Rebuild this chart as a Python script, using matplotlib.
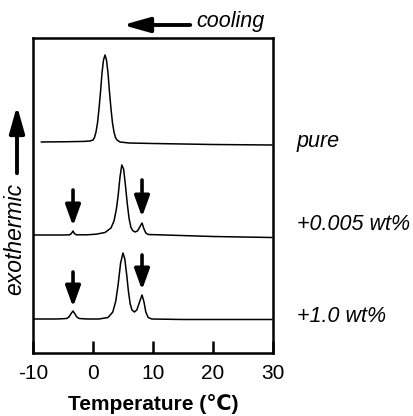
import matplotlib.pyplot as plt
from matplotlib.patches import FancyArrowPatch

plt.rcParams['font.family'] = ['Liberation Sans', 'DejaVu Sans']

# DSC cooling curves (temperature in C, signal in arbitrary units above baseline)
pure_T = [-8.6, -4.0, -1.5, -0.5, 0.0, 0.25, 0.5, 0.75, 1.0, 1.25, 1.5, 1.75, 2.0,
          2.25, 2.5, 2.75, 3.0, 3.25, 3.5, 3.75, 4.0, 4.5, 6.0, 10.0, 20.0, 29.8]
pure_S = [0.0, 0.3, 0.6, 1.0, 2.0, 4.5, 10.0, 19.0, 33.0, 50.0, 69.0, 82.0, 87.0,
          82.0, 69.0, 50.0, 33.0, 19.0, 10.0, 4.5, 2.0, 0.0, -1.0, -1.5, -2.5, -3.0]

low_T = [-9.7, -5.0, -3.9, -3.6, -3.33, -3.1, -2.8, -1.0, 0.5, 2.0, 3.0, 3.5, 3.9, 4.2,
         4.5, 4.8, 5.1, 5.4, 5.7, 6.0, 6.3, 6.6, 7.0, 7.4, 7.8, 8.17, 8.5, 8.8, 9.2, 12.0,
         20.0, 29.8]
low_S = [0.0, 0.0, 0.2, 1.5, 4.0, 1.5, 0.2, 0.2, 0.8, 2.5, 7.0, 14.0, 26.0, 40.0,
         58.0, 70.0, 66.0, 50.0, 32.0, 17.0, 8.0, 4.5, 3.0, 4.0, 8.0, 12.0, 6.0, 2.0, 0.5, 0.0,
         -1.5, -2.5]

high_T = [-10.0, -6.0, -4.4, -4.0, -3.7, -3.33, -3.0, -2.7, -2.3, -1.0, 1.0, 2.5, 3.3, 3.8,
          4.2, 4.6, 5.0, 5.3, 5.6, 5.9, 6.2, 6.5, 6.9, 7.3, 7.7, 8.17, 8.5, 8.8, 9.2, 9.8,
          15.0, 29.8]
high_S = [0.0, 0.0, 0.5, 2.0, 5.0, 8.0, 5.0, 2.0, 0.5, 0.0, 0.0, 1.5, 7.0, 18.0,
          35.0, 56.0, 66.0, 60.0, 45.0, 28.0, 15.0, 9.0, 7.0, 9.0, 16.0, 24.0, 17.0, 7.0, 1.5, 0.0,
          -0.5, -0.5]

offsets = [211, 118, 34]
labels = ['pure', '+0.005 wt%', '+1.0 wt%']
label_y = [211, 129, 36]

# arrows marking the extra peaks: (temperature, tail y, tip y)
arrow_T = [-3.33, 8.17, -3.33, 8.17]
arrow_top = [163, 173, 81, 98]
arrow_tip = [127, 136, 46, 63]

fig = plt.figure(figsize=(4.14, 4.16), dpi=100)
ax = fig.add_axes([33 / 414, 63 / 416, 240 / 414, 315 / 416])

curves = [(pure_T, pure_S), (low_T, low_S), (high_T, high_S)]
for (T, S), off in zip(curves, offsets):
    ax.plot(T, [s + off for s in S], color='black', lw=1.1)

for t, y0, y1 in zip(arrow_T, arrow_top, arrow_tip):
    ax.annotate('', xy=(t, y1), xytext=(t, y0),
                arrowprops=dict(arrowstyle='-|>,head_width=0.45,head_length=1.25',
                                color='black', lw=2.6, shrinkA=0, shrinkB=0))

for lab, y in zip(labels, label_y):
    ax.text(1.1, y, lab, transform=ax.get_yaxis_transform(), fontsize=15.5,
            fontstyle='italic', va='center', ha='left', clip_on=False)

ax.set_xlim(-10, 30)
ax.set_ylim(0, 315)
ax.set_xticks([-10, 0, 10, 20, 30])
ax.set_xticklabels(['-10', '0', '10', '20', '30'])
ax.set_yticks([])
ax.tick_params(axis='x', direction='in', length=9, width=1.8, labelsize=15, pad=8)
for sp in ax.spines.values():
    sp.set_linewidth(1.8)
ax.set_xlabel('Temperature (\u2103)', fontsize=15, fontweight='bold', labelpad=8)

# cooling arrow above the plot
fig.patches.append(FancyArrowPatch(
    (193 / 414, 1 - 25 / 416), (120 / 414, 1 - 25 / 416), transform=fig.transFigure,
    arrowstyle='-|>,head_width=0.45,head_length=1.6', color='black', lw=2.8,
    mutation_scale=10))
fig.text(196 / 414, 1 - 21 / 416, 'cooling', fontsize=15.5, fontstyle='italic',
         va='center', ha='left')

# exothermic arrow on the left
fig.patches.append(FancyArrowPatch(
    (17 / 414, 1 - 176 / 416), (17 / 414, 1 - 103 / 416), transform=fig.transFigure,
    arrowstyle='-|>,head_width=0.45,head_length=1.6', color='black', lw=2.8,
    mutation_scale=10))
fig.text(15 / 414, 1 - 239 / 416, 'exothermic', fontsize=16.5, fontstyle='italic',
         rotation=90, va='center', ha='center')

fig.savefig('out.png', dpi=100)
